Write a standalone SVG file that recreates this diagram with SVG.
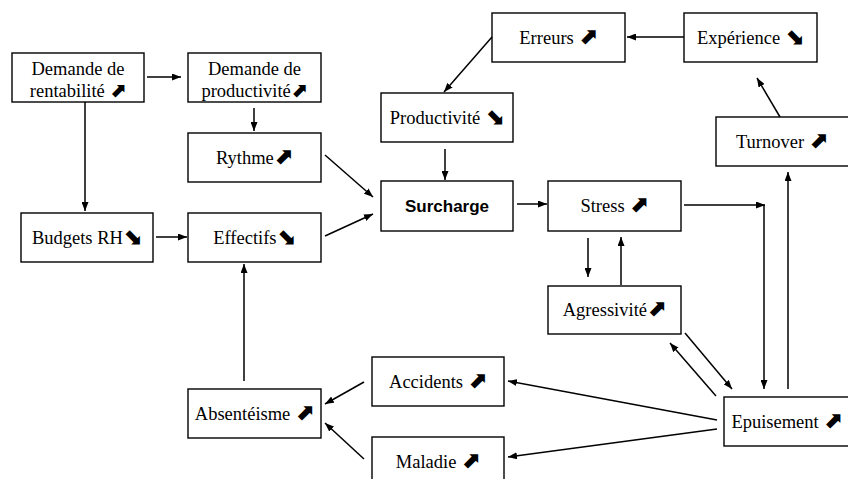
<svg xmlns="http://www.w3.org/2000/svg" width="848" height="479" viewBox="0 0 848 479">
<style>
.box{fill:#fff;stroke:#000;stroke-width:1.4}
.t{font-family:"Liberation Serif","Times New Roman",serif;font-size:18.5px;fill:#000;text-anchor:middle}
.ar{font-family:"DejaVu Sans",sans-serif;font-size:23px;font-weight:bold}
.ar2{font-family:"DejaVu Sans",sans-serif;font-size:20px;font-weight:bold}
.b{font-family:"Liberation Sans",Arial,sans-serif;font-size:17px;font-weight:bold;fill:#000;text-anchor:middle}
.c line{stroke:#000;stroke-width:1.5;marker-end:url(#ah)}
</style>
<defs>
<marker id="ah" markerUnits="userSpaceOnUse" markerWidth="9" markerHeight="7" refX="9" refY="3.5" orient="auto">
<path d="M0,0 L9,3.5 L0,7 z" fill="#000"/>
</marker>
</defs>
<rect width="848" height="479" fill="#fff"/>
<g id="rentabilite"><rect class="box" x="12" y="53" width="132" height="49"/><text class="t" x="78" y="74.5">Demande de</text><text class="t" x="78" y="97">rentabilité <tspan class="ar2">⬈</tspan></text></g>
<g id="demande-productivite"><rect class="box" x="188" y="53" width="133" height="49"/><text class="t" x="254.5" y="74.5">Demande de</text><text class="t" x="254.5" y="97">productivité<tspan class="ar2">⬈</tspan></text></g>
<g id="rythme"><rect class="box" x="188" y="133" width="133" height="49"/><text class="t" x="254.5" y="164">Rythme<tspan class="ar">⬈</tspan></text></g>
<g id="budgets"><rect class="box" x="21" y="213" width="132" height="49"/><text class="t" x="87" y="244">Budgets RH<tspan class="ar">⬊</tspan></text></g>
<g id="effectifs"><rect class="box" x="188" y="213" width="133" height="49"/><text class="t" x="254.5" y="244">Effectifs<tspan class="ar">⬊</tspan></text></g>
<g id="erreurs"><rect class="box" x="492" y="13" width="133" height="49"/><text class="t" x="558.5" y="44">Erreurs <tspan class="ar">⬈</tspan></text></g>
<g id="experience"><rect class="box" x="684" y="13" width="133" height="49"/><text class="t" x="750.5" y="44">Expérience <tspan class="ar">⬊</tspan></text></g>
<g id="productivite"><rect class="box" x="381" y="93" width="132" height="49"/><text class="t" x="447" y="124">Productivité <tspan class="ar">⬊</tspan></text></g>
<g id="turnover"><rect class="box" x="716" y="117" width="133" height="49"/><text class="t" x="782" y="148">Turnover <tspan class="ar">⬈</tspan></text></g>
<g id="surcharge"><rect class="box" x="381" y="181" width="132" height="50"/><text class="b" x="447" y="212">Surcharge</text></g>
<g id="stress"><rect class="box" x="548" y="181" width="133" height="50"/><text class="t" x="614.5" y="212">Stress <tspan class="ar">⬈</tspan></text></g>
<g id="agressivite"><rect class="box" x="548" y="286" width="133" height="48"/><text class="t" x="614.5" y="316">Agressivité<tspan class="ar">⬈</tspan></text></g>
<g id="accidents"><rect class="box" x="372" y="357" width="132" height="49"/><text class="t" x="438" y="388">Accidents <tspan class="ar">⬈</tspan></text></g>
<g id="absenteisme"><rect class="box" x="188" y="389" width="133" height="49"/><text class="t" x="254.5" y="420">Absentéisme <tspan class="ar">⬈</tspan></text></g>
<g id="maladie"><rect class="box" x="372" y="437" width="132" height="49"/><text class="t" x="438" y="468">Maladie <tspan class="ar">⬈</tspan></text></g>
<g id="epuisement"><rect class="box" x="724" y="397" width="133" height="49"/><text class="t" x="787" y="428">Epuisement <tspan class="ar">⬈</tspan></text></g>
<g id="connectors" class="c">
<line x1="147" y1="77" x2="181" y2="77"/>
<line x1="254" y1="108" x2="254" y2="131"/>
<line x1="85" y1="102" x2="85" y2="211"/>
<line x1="156" y1="237" x2="187" y2="237"/>
<line x1="325" y1="155" x2="373" y2="197"/>
<line x1="325" y1="236" x2="373" y2="214"/>
<line x1="445" y1="149" x2="445" y2="180"/>
<line x1="684" y1="37" x2="627" y2="37"/>
<line x1="492" y1="37" x2="444" y2="92"/>
<line x1="780" y1="117" x2="757" y2="78"/>
<line x1="517" y1="204" x2="547" y2="204"/>
<line x1="684" y1="205" x2="765" y2="205"/>
<line x1="764" y1="205" x2="764" y2="389"/>
<line x1="788" y1="389" x2="788" y2="172"/>
<line x1="588" y1="238" x2="588" y2="277"/>
<line x1="621" y1="285" x2="621" y2="237"/>
<line x1="716" y1="396" x2="670" y2="343"/>
<line x1="685" y1="333" x2="732" y2="389"/>
<line x1="717" y1="420" x2="508" y2="381"/>
<line x1="717" y1="429" x2="508" y2="457"/>
<line x1="364" y1="382" x2="325" y2="404"/>
<line x1="364" y1="459" x2="325" y2="423"/>
<line x1="244" y1="381" x2="244" y2="264"/>
</g>
</svg>
